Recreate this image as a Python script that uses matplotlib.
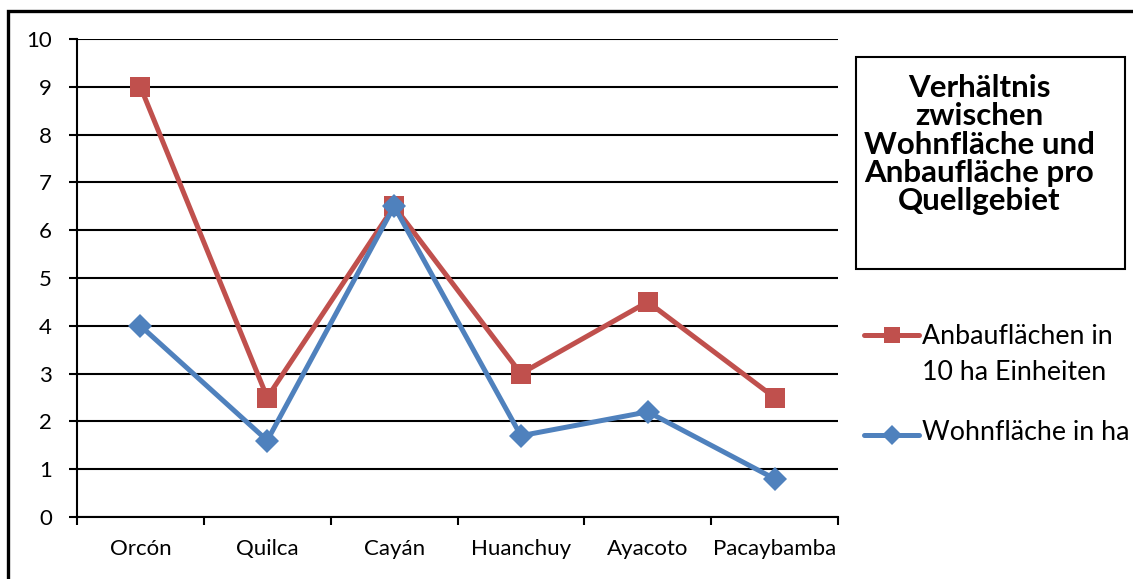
import matplotlib
matplotlib.use("Agg")
import matplotlib.pyplot as plt
from matplotlib.patches import Rectangle
from matplotlib.lines import Line2D

plt.rcParams['font.family'] = ['Lato', 'DejaVu Sans']

# Data
regions = ["Orcón", "Quilca", "Cayán", "Huanchuy", "Ayacoto", "Pacaybamba"]
anbau = [9, 2.5, 6.5, 3, 4.5, 2.5]          # Anbauflächen in 10 ha Einheiten
wohn = [4, 1.6, 6.5, 1.7, 2.2, 0.8]         # Wohnfläche in ha
y_ticks = list(range(0, 11))

title_lines = ["Verhältnis", "zwischen", "Wohnfläche und",
               "Anbaufläche pro", "Quellgebiet"]
label_anbau = ["Anbauflächen in", "10 ha Einheiten"]
label_wohn = ["Wohnfläche in ha"]

RED = "#C0504D"
BLUE = "#4F81BD"

W, H = 1133, 579
fig = plt.figure(figsize=(W / 100, H / 100), dpi=100)
fig.patch.set_facecolor("white")


def fx(px):
    return px / W


def fy(py):
    return 1 - py / H


ax = fig.add_axes([fx(77), fy(517), fx(838) - fx(77), fy(39) - fy(517)])

xpos = [i + 0.5 for i in range(len(regions))]
ax.plot(xpos, anbau, color=RED, lw=3.6, marker="s", ms=14.5,
        markeredgewidth=0, zorder=3, solid_capstyle="round")
ax.plot(xpos, wohn, color=BLUE, lw=3.6, marker="D", ms=12.5,
        markeredgewidth=0, zorder=4, solid_capstyle="round")

ax.set_xlim(0, len(regions))
ax.set_ylim(0, 10)
ax.set_yticks(y_ticks)
ax.set_yticklabels([str(v) for v in y_ticks], fontsize=16)
ax.set_xticks(range(len(regions) + 1))
ax.set_xticklabels([])
ax.set_xticks(xpos, minor=True)
ax.set_xticklabels(regions, minor=True, fontsize=16)
ax.tick_params(axis="x", which="minor", length=0, pad=16)
ax.tick_params(axis="x", which="major", length=6, width=1.5, direction="out")
ax.tick_params(axis="y", length=6, width=1.5, direction="out", pad=12)

ax.grid(axis="y", color="black", lw=1.5, zorder=1)
ax.set_axisbelow(True)
for side in ("top", "right"):
    ax.spines[side].set_visible(False)
for side in ("left", "bottom"):
    ax.spines[side].set_linewidth(1.5)
    ax.spines[side].set_color("black")

# Outer frame
fig.patches.append(Rectangle((fx(8), fy(700)), fx(1300), fy(11) - fy(700),
                             transform=fig.transFigure, fill=False,
                             edgecolor="black", lw=2.4))

# Title box
fig.patches.append(Rectangle((fx(856), fy(269)), fx(1125) - fx(856),
                             fy(57) - fy(269), transform=fig.transFigure,
                             fill=False, edgecolor="black", lw=1.5))
for i, line in enumerate(title_lines):
    fig.text(fx(979), fy(97 + 28.3 * i), line, ha="center", va="baseline",
             fontsize=22.5, fontweight="bold")

# Legend entries
for y_line, color, marker, ms in ((335, RED, "s", 12), (435, BLUE, "D", 10.5)):
    fig.add_artist(Line2D([fx(864), fx(919)], [fy(y_line), fy(y_line)],
                          transform=fig.transFigure, color=color, lw=3.6,
                          solid_capstyle="round"))
    fig.add_artist(Line2D([fx(892)], [fy(y_line)], transform=fig.transFigure,
                          color=color, marker=marker, ms=ms,
                          markeredgewidth=0, linestyle="none"))

for baseline, text in zip((344, 380), label_anbau):
    fig.text(fx(922), fy(baseline), text, ha="left", va="baseline", fontsize=19.3)
for baseline, text in zip((440,), label_wohn):
    fig.text(fx(922), fy(baseline), text, ha="left", va="baseline", fontsize=19.3)

fig.savefig("out.png", dpi=100)
